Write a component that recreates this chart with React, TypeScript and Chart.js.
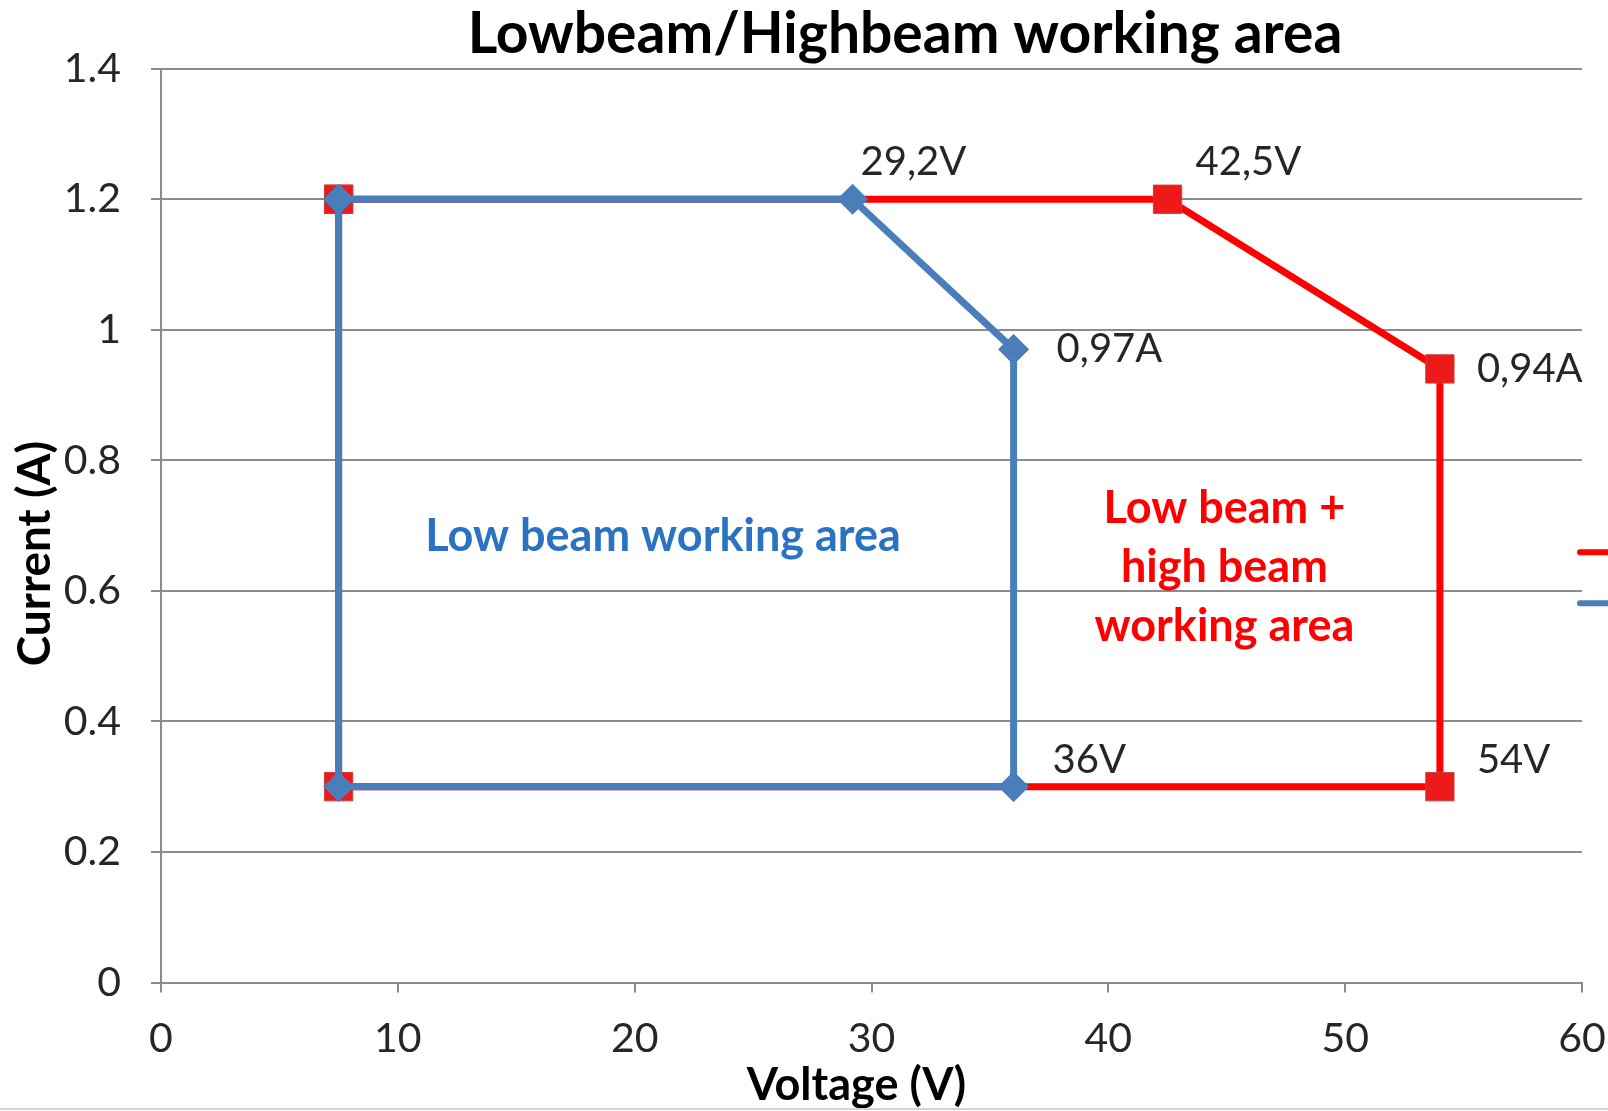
import React, { useEffect, useRef } from "react";
import { Chart, registerables } from "chart.js";

Chart.register(...registerables);

const FONT = "Lato, 'Open Sans', sans-serif";

const chartTitle = "Lowbeam/Highbeam working area";
const xTitle = "Voltage (V)";
const yTitle = "Current (A)";
const seriesNames = ["Low beam + high beam", "Low beam"];

// Low beam + high beam working area (red, squares)
const redX = [7.5, 42.5, 54, 54, 7.5, 7.5];
const redY = [1.2, 1.2, 0.94, 0.3, 0.3, 1.2];
const redLabels = ["", "42,5V", "0,94A", "54V", "", ""];

// Low beam working area (blue, diamonds)
const blueX = [7.5, 29.2, 36, 36, 7.5, 7.5];
const blueY = [1.2, 1.2, 0.97, 0.3, 0.3, 1.2];
const blueLabels = ["", "29,2V", "0,97A", "36V", "", ""];

const xMin = 0, xMax = 60, xStep = 10;
const yMin = 0, yMax = 1.4, yStep = 0.2;

const areaTexts = [["Low beam working area"], ["Low beam +", "high beam", "working area"]];
const areaX = [21.2, 44.9];
const areaY = [0.683, 0.636];

// label offsets (pixels) — layout only
const redLabelOffsets: Record<number, [number, number]> = { 1: [28, -37], 2: [37, 0], 3: [37, -27] };
const blueLabelOffsets: Record<number, [number, number]> = { 1: [8, -37], 2: [43, 0], 3: [39, -27] };

const RED = "#ff0000";
const BLUE = "#4a7ebb";
const GRID = "#8c8c8c";

const overlay = {
  id: "overlay",
  afterDatasetsDraw(chart: any) {
    const { ctx, chartArea, scales } = chart;
    ctx.save();
    // chart title (centred over plot + legend, as in the original)
    ctx.fillStyle = "#000";
    ctx.textAlign = "center";
    ctx.textBaseline = "middle";
    ctx.font = `bold 57px ${FONT}`;
    ctx.fillText(chartTitle, 905, 35);
    // point labels
    ctx.font = `40px ${FONT}`;
    ctx.fillStyle = "#262626";
    ctx.textAlign = "left";
    const sets = [
      { ds: 0, labels: redLabels, offs: redLabelOffsets },
      { ds: 1, labels: blueLabels, offs: blueLabelOffsets },
    ];
    sets.forEach((s) => {
      const meta = chart.getDatasetMeta(s.ds);
      s.labels.forEach((t, i) => {
        if (!t) return;
        const p = meta.data[i];
        const [dx, dy] = s.offs[i] || [10, -30];
        ctx.fillText(t, p.x + dx, p.y + dy);
      });
    });
    // area labels
    const areaColors = ["#2a72c2", RED];
    ctx.textAlign = "center";
    ctx.font = `bold 45px ${FONT}`;
    const lineH = 59;
    areaTexts.forEach((lines, k) => {
      const cx = scales.x.getPixelForValue(areaX[k]);
      const cy = scales.y.getPixelForValue(areaY[k]);
      ctx.fillStyle = areaColors[k];
      lines.forEach((ln, j) => {
        ctx.fillText(ln, cx, cy + (j - (lines.length - 1) / 2) * lineH);
      });
    });
    // axis titles
    ctx.fillStyle = "#000";
    ctx.font = `bold 45px ${FONT}`;
    ctx.fillText(xTitle, (chartArea.left + chartArea.right) / 2 - 15, 1085);
    ctx.save();
    ctx.font = `bold 46px ${FONT}`;
    ctx.translate(35, (chartArea.top + chartArea.bottom) / 2 + 28);
    ctx.rotate(-Math.PI / 2);
    ctx.fillText(yTitle, 0, 0);
    ctx.restore();
    // legend (cropped at the right edge)
    const legY = chart.height * 0.52;
    const colors = [RED, BLUE];
    ctx.lineCap = "round";
    ctx.lineWidth = 6;
    colors.forEach((c, k) => {
      ctx.strokeStyle = c;
      ctx.beginPath();
      const y = legY + (k - 0.5) * 51;
      ctx.moveTo(chartArea.right - 2, y);
      ctx.lineTo(chart.width + 20, y);
      ctx.stroke();
    });
    // frame bottom edge
    ctx.strokeStyle = "#d4d4d4";
    ctx.lineWidth = 2;
    ctx.lineCap = "butt";
    ctx.beginPath();
    ctx.moveTo(0, chart.height - 2);
    ctx.lineTo(chart.width, chart.height - 2);
    ctx.stroke();
    ctx.restore();
  },
};

export default function App() {
  const ref = useRef<HTMLCanvasElement>(null);
  useEffect(() => {
    if (!ref.current) return;
    const chart = new Chart(ref.current, {
      type: "scatter",
      data: {
        datasets: [
          {
            label: seriesNames[0],
            data: redX.map((x, i) => ({ x, y: redY[i] })),
            showLine: true,
            borderColor: RED,
            borderWidth: 7,
            pointStyle: "rect",
            pointRadius: 20,
            pointBackgroundColor: "#ee1a1a",
            pointBorderColor: "#c8403c",
            pointBorderWidth: 1,
            order: 1,
          },
          {
            label: seriesNames[1],
            data: blueX.map((x, i) => ({ x, y: blueY[i] })),
            showLine: true,
            borderColor: BLUE,
            borderWidth: 7,
            pointStyle: "rectRot",
            pointRadius: 15,
            pointBackgroundColor: BLUE,
            pointBorderColor: BLUE,
            pointBorderWidth: 1,
            order: 0,
          },
        ] as any,
      },
      options: {
        animation: false,
        responsive: false,
        layout: { padding: { left: 0, right: 26, top: 68.7, bottom: 0 } },
        plugins: {
          legend: { display: false },
          tooltip: { enabled: false },
          title: { display: false, text: chartTitle },
        },
        scales: {
          x: {
            type: "linear",
            min: xMin,
            max: xMax,
            afterFit: (s: any) => {
              s.height = 128.5;
              s.paddingRight = 0;
              s.paddingLeft = 0;
            },
            ticks: {
              stepSize: xStep,
              color: "#262626",
              font: { family: FONT, size: 41 },
              padding: 22,
              maxRotation: 0,
            },
            grid: { drawOnChartArea: false, drawTicks: true, tickLength: 10, color: GRID, lineWidth: 2 },
            border: { display: true, color: GRID, width: 2 },
            title: { display: false, text: xTitle },
          },
          y: {
            type: "linear",
            min: yMin,
            max: yMax,
            afterFit: (s: any) => {
              s.width = 161;
              s.paddingTop = 0;
              s.paddingBottom = 0;
            },
            ticks: {
              stepSize: yStep,
              color: "#262626",
              font: { family: FONT, size: 41 },
              padding: 30,
              callback: (v: any) => String(Math.round(Number(v) * 10) / 10),
            },
            grid: { drawTicks: true, tickLength: 10, color: GRID, lineWidth: 2 },
            border: { display: true, color: GRID, width: 2 },
            title: { display: false, text: yTitle },
          },
        },
      } as any,
      plugins: [overlay],
    });
    return () => chart.destroy();
  }, []);
  return (
    <div style={{ width: 1608, height: 1111, overflow: "hidden", background: "#fff" }}>
      <style>{"body{margin:0}"}</style>
      <canvas ref={ref} width={1608} height={1111} style={{ display: "block" }} />
    </div>
  );
}
